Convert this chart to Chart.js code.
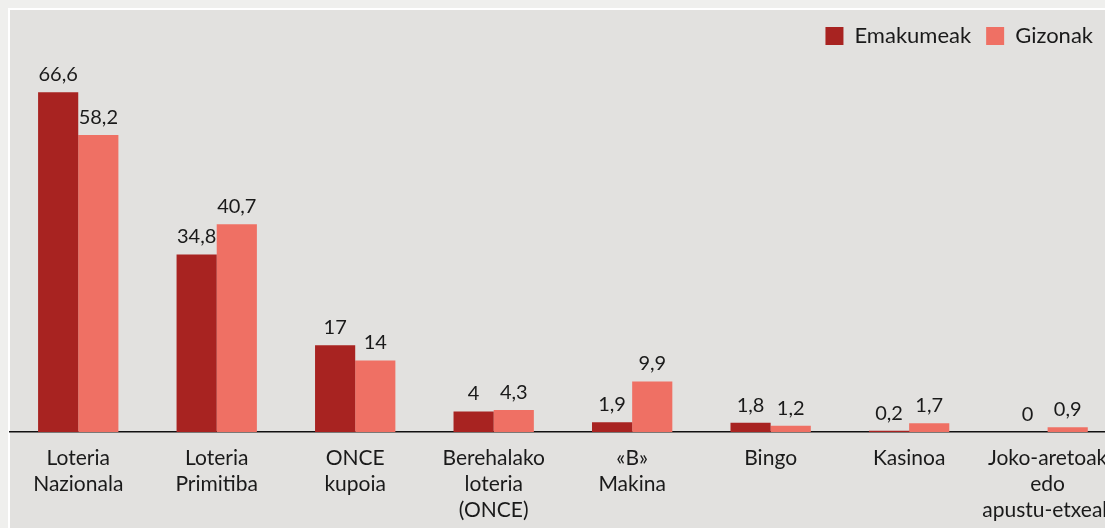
<!DOCTYPE html>
<html>
<head>
<meta charset="utf-8">
<script src="https://cdn.jsdelivr.net/npm/chart.js@4.4.0/dist/chart.umd.min.js"></script>
<style>
  html, body { margin: 0; padding: 0; background: #efefed; overflow: hidden; width: 1105px; height: 528px; }
  #frame { position: absolute; left: 8px; top: 8px; width: 1200px; height: 600px;
           border-left: 2px solid #ffffff; border-top: 2px solid #ffffff; background: #e2e1df; }
  #wrap { position: absolute; left: 9px; top: 10px; width: 1109px; height: 518px; }
</style>
</head>
<body>
<div id="frame"></div>
<div id="wrap"><canvas id="myChart"></canvas></div>
<script>
var categories = [
    ['Loteria', 'Nazionala'],
    ['Loteria', 'Primitiba'],
    ['ONCE', 'kupoia'],
    ['Berehalako', 'loteria', '(ONCE)'],
    ['«B»', 'Makina'],
    ['Bingo'],
    ['Kasinoa'],
    ['Joko-aretoak', 'edo', 'apustu-etxeak']
];
var emakumeak = [66.6, 34.8, 17, 4, 1.9, 1.8, 0.2, 0];
var gizonak = [58.2, 40.7, 14, 4.3, 9.9, 1.2, 1.7, 0.9];

var fontFamily = 'Lato, "DejaVu Sans", sans-serif';

// value labels above each bar, comma as decimal sign
var valueLabels = {
    id: 'valueLabels',
    afterDatasetsDraw: function(chart) {
        var ctx = chart.ctx;
        ctx.save();
        ctx.font = '20px ' + fontFamily;
        ctx.fillStyle = '#1a1a1a';
        ctx.textAlign = 'center';
        ctx.textBaseline = 'alphabetic';
        chart.data.datasets.forEach(function(ds, i) {
            chart.getDatasetMeta(i).data.forEach(function(bar, j) {
                var txt = String(ds.data[j]).replace('.', ',');
                ctx.fillText(txt, bar.x, bar.y - 11);
            });
        });
        ctx.restore();
    }
};

// the legend sits a bit in from the (cut off) right edge
var legendShift = {
    id: 'legendShift',
    afterLayout: function(chart) {
        chart.legend.right -= 10;
    }
};

var ctx = document.getElementById('myChart').getContext('2d');
var chart = new Chart(ctx, {
    type: 'bar',
    data: {
        labels: categories,
        datasets: [{
            label: 'Emakumeak',
            backgroundColor: '#a82321',
            data: emakumeak
        },
        {
            label: 'Gizonak',
            backgroundColor: '#ef7064',
            data: gizonak
        }]
    },
    options: {
        responsive: true,
        maintainAspectRatio: false,
        animation: false,
        datasets: {
            bar: { categoryPercentage: 0.58, barPercentage: 1.0 }
        },
        plugins: {
            legend: {
                position: 'top',
                align: 'end',
                labels: {
                    boxWidth: 18,
                    boxHeight: 18,
                    padding: 15,
                    color: '#1a1a1a',
                    font: { family: fontFamily, size: 22 }
                }
            },
            tooltip: { enabled: false }
        },
        scales: {
            x: {
                grid: { display: false },
                border: { display: true, color: '#111111', width: 1.5 },
                ticks: {
                    color: '#1a1a1a',
                    padding: 5,
                    maxRotation: 0,
                    autoSkip: false,
                    font: { family: fontFamily, size: 21, lineHeight: 1.24 }
                }
            },
            y: {
                display: false,
                min: 0,
                max: 73.5
            }
        }
    },
    plugins: [valueLabels, legendShift]
});
</script>
</body>
</html>
